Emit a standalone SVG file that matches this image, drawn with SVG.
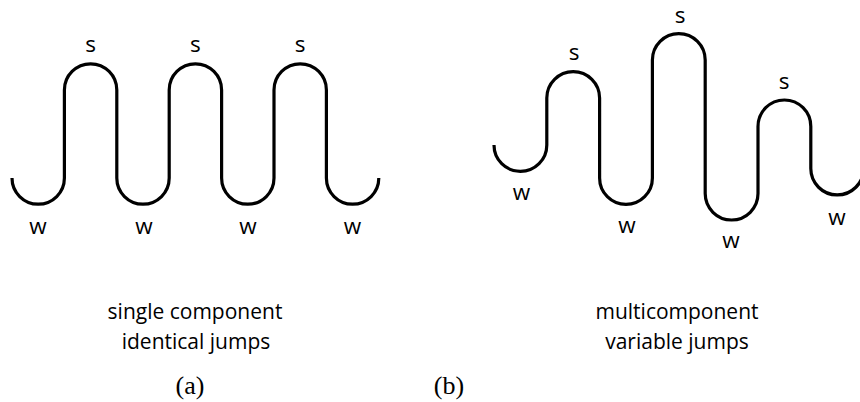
<svg xmlns="http://www.w3.org/2000/svg" width="860" height="402" viewBox="0 0 860 402">
<style>
.wave{fill:none;stroke:#000;stroke-width:3.2;stroke-linecap:butt}
.lbl{font-family:"Open Sans","Liberation Sans",sans-serif;font-size:22.5px;fill:#000;text-anchor:middle}
.cap{font-family:"Open Sans","Liberation Sans",sans-serif;font-size:21px;fill:#000;text-anchor:middle}
.sub{font-family:"Liberation Serif","DejaVu Serif",serif;font-size:26px;fill:#000;text-anchor:middle}
</style>
<rect width="860" height="402" fill="#fff"/>
<g id="panel-a">
<path class="wave" d="M12,178 A26.2,26.2 0 0 0 64.4,178 V90 A26.2,26.2 0 0 1 116.8,90 V178 A26.2,26.2 0 0 0 169.2,178 V90 A26.2,26.2 0 0 1 221.6,90 V178 A26.2,26.2 0 0 0 274,178 V90 A26.2,26.2 0 0 1 326.4,90 V178 A26.2,26.2 0 0 0 378.8,178"/>
<text class="lbl" x="90.6" y="52">s</text>
<text class="lbl" x="195.4" y="52">s</text>
<text class="lbl" x="300.2" y="52">s</text>
<text class="lbl" x="38" y="234">w</text>
<text class="lbl" x="144" y="234">w</text>
<text class="lbl" x="248" y="234">w</text>
<text class="lbl" x="352.5" y="234">w</text>
<text class="cap" x="195" y="319">single component</text>
<text class="cap" x="196" y="349">identical jumps</text>
<text class="sub" x="190" y="394">(a)</text>
</g>
<g id="panel-b">
<path class="wave" d="M494,145 A26.4,26.4 0 0 0 546.8,145 V98 A26.4,26.4 0 0 1 599.6,98 V178 A26.4,26.4 0 0 0 652.4,178 V60 A26.4,26.4 0 0 1 705.2,60 V193.6 A26.4,26.4 0 0 0 758,193.6 V126.4 A26.4,26.4 0 0 1 810.8,126.4 V168.6 A26.4,26.4 0 0 0 863.6,168.6"/>
<text class="lbl" x="574" y="60">s</text>
<text class="lbl" x="680" y="22.5">s</text>
<text class="lbl" x="784" y="89">s</text>
<text class="lbl" x="521.5" y="200">w</text>
<text class="lbl" x="627" y="233">w</text>
<text class="lbl" x="731" y="248">w</text>
<text class="lbl" x="837" y="225">w</text>
<text class="cap" x="677" y="319">multicomponent</text>
<text class="cap" x="677" y="349">variable jumps</text>
<text class="sub" x="449" y="394">(b)</text>
</g>
</svg>
